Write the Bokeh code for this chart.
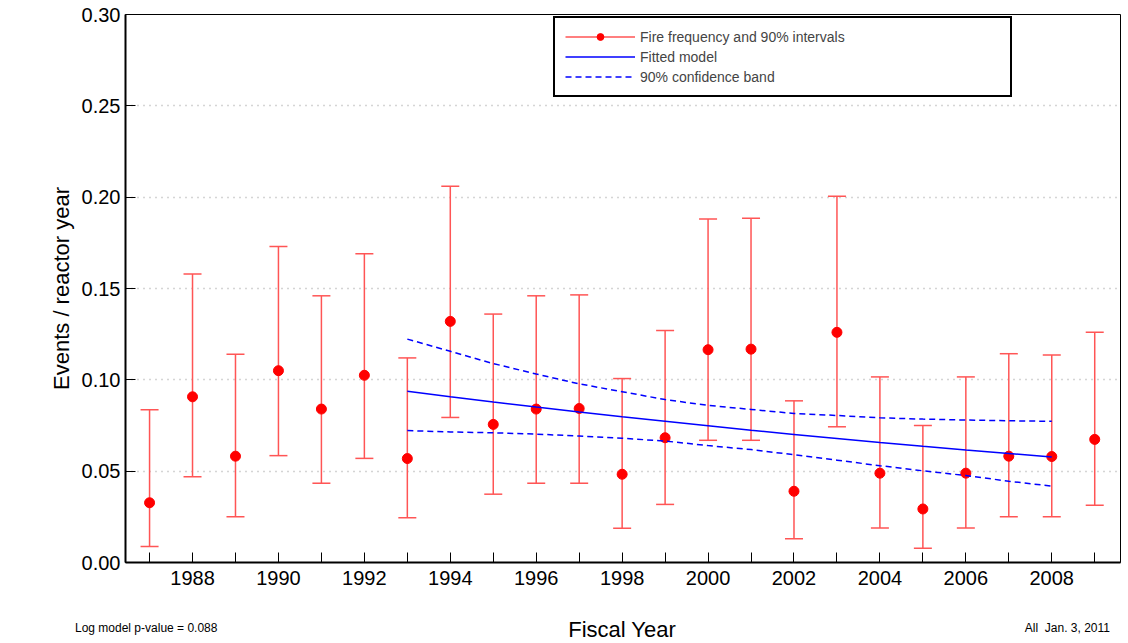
from bokeh.plotting import figure
from bokeh.layouts import column
from bokeh.models import ColumnDataSource, Whisker, TeeHead, Legend, LegendItem, FixedTicker, Range1d, Div
from bokeh.embed import file_html
from bokeh.resources import INLINE

years = list(range(1987, 2010))
freq = [0.0327, 0.0907, 0.0582, 0.105, 0.084, 0.1025, 0.0569, 0.132, 0.0756, 0.084, 0.0843,
        0.0483, 0.0683, 0.1165, 0.1168, 0.039, 0.126, 0.0489, 0.0293, 0.0489, 0.0582, 0.058, 0.0674]
lower = [0.0087, 0.047, 0.025, 0.0585, 0.0434, 0.057, 0.0245, 0.0794, 0.0374, 0.0434, 0.0434,
         0.0187, 0.0318, 0.0669, 0.0669, 0.013, 0.0743, 0.0189, 0.0078, 0.0189, 0.025, 0.025, 0.0314]
upper = [0.0836, 0.158, 0.114, 0.173, 0.146, 0.169, 0.112, 0.206, 0.136, 0.146, 0.1465,
         0.1007, 0.127, 0.188, 0.1885, 0.0885, 0.2005, 0.1016, 0.075, 0.1016, 0.1143, 0.1136, 0.126]

fit_years = list(range(1993, 2009))
fit = [0.0938, 0.0908, 0.0879, 0.0851, 0.0824, 0.0798, 0.0773, 0.0748, 0.0724, 0.0701, 0.0679,
       0.0657, 0.0636, 0.0616, 0.0597, 0.0578]
band_hi = [0.1223, 0.1156, 0.1089, 0.1032, 0.0978, 0.0935, 0.0892, 0.086, 0.0838, 0.0816, 0.0805,
           0.0792, 0.0785, 0.078, 0.0776, 0.0773]
band_lo = [0.0722, 0.0715, 0.071, 0.0703, 0.0692, 0.068, 0.0665, 0.064, 0.0618, 0.059, 0.056,
           0.053, 0.0502, 0.0476, 0.0445, 0.0418]

FONT = "Liberation Sans"

p = figure(width=1121, height=602, output_backend="svg", toolbar_location=None,
           x_range=Range1d(1986.44, 2009.6), y_range=Range1d(0, 0.30),
           min_border_left=125, min_border_right=1, min_border_top=14, min_border_bottom=40)
p.outline_line_color = "black"
p.outline_line_width = 1
p.xgrid.visible = False
p.ygrid.grid_line_color = "#aaaaaa"
p.ygrid.grid_line_dash = "1 5"
p.ygrid.grid_line_width = 1.5

src = ColumnDataSource(dict(x=years, y=freq, lo=lower, hi=upper))
p.add_layout(Whisker(source=src, base="x", lower="lo", upper="hi",
                     line_color="#ff5555", line_width=1.5,
                     lower_head=TeeHead(size=18, line_color="#ff5555", line_width=1.5),
                     upper_head=TeeHead(size=18, line_color="#ff5555", line_width=1.5)))
pts = p.scatter("x", "y", source=src, size=10, color="red")

fl = p.line(fit_years, fit, line_color="blue", line_width=1.5)
bh = p.line(fit_years, band_hi, line_color="blue", line_width=1.5, line_dash="6 4")
p.line(fit_years, band_lo, line_color="blue", line_width=1.5, line_dash="6 4")

dummy = p.line([years[0]], [freq[0]], line_color="#ff5555", line_width=1.5)

legend = Legend(items=[LegendItem(label="Fire frequency and 90% intervals", renderers=[dummy, pts]),
                       LegendItem(label="Fitted model", renderers=[fl]),
                       LegendItem(label="90% confidence band", renderers=[bh])],
                location=(428, 465), label_text_font=FONT, label_text_font_size="14px",
                glyph_width=70, glyph_height=17, label_height=17, spacing=3,
                label_width=360, padding=10, margin=0, background_fill_alpha=1,
                border_line_color="black", border_line_width=2, border_line_alpha=1)
p.add_layout(legend, "center")

p.xaxis.ticker = FixedTicker(ticks=years)
p.xaxis.major_label_overrides = {y: (str(y) if y % 2 == 0 else "") for y in years}
p.yaxis.ticker = FixedTicker(ticks=[0, 0.05, 0.1, 0.15, 0.2, 0.25, 0.3])
p.yaxis.major_label_overrides = {0: "0.00", 0.05: "0.05", 0.1: "0.10", 0.15: "0.15",
                                 0.2: "0.20", 0.25: "0.25", 0.3: "0.30"}
for ax in (p.xaxis, p.yaxis):
    ax.major_tick_in = 10
    ax.major_tick_out = 0
    ax.minor_tick_in = 0
    ax.minor_tick_out = 0
    ax.axis_line_width = 2
    ax.major_label_text_font = FONT
    ax.major_label_text_font_size = "20px"
    ax.major_label_text_color = "black"
    ax.axis_label_text_font = FONT
    ax.axis_label_text_font_size = "22px"
    ax.axis_label_text_font_style = "normal"
    ax.axis_label_text_color = "black"
p.yaxis.axis_label = "Events / reactor year"
p.xaxis.major_label_standoff = 8

html = (
    "<div style='position:relative;width:1121px;height:38px;font-family:\"Liberation Sans\";color:black'>"
    "<span style='position:absolute;left:75px;top:18px;font-size:12px;white-space:nowrap'>Log model p-value = 0.088</span>"
    "<span style='position:absolute;left:522px;width:200px;text-align:center;top:12px;font-size:22px;white-space:nowrap'>Fiscal Year</span>"
    "<span style='position:absolute;right:11px;top:18px;font-size:12px;white-space:nowrap'>All&nbsp; Jan. 3, 2011</span>"
    "</div>"
)
footer = Div(text=html, width=1121, height=38, margin=0)

open("out.html", "w").write(file_html(column(p, footer, spacing=0), INLINE))
